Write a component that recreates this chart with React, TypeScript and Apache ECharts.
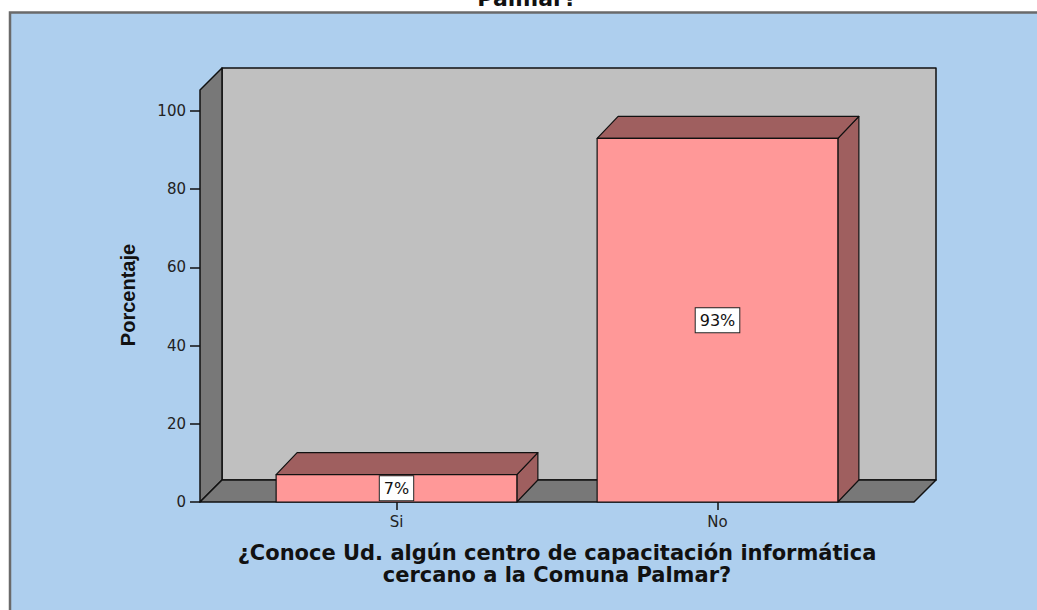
import React, { useEffect, useRef } from "react";
import * as echarts from "echarts";

const categories = ["Si", "No"];
const percentages = [7, 93];
const yMin = 0;
const yMax = 100;
const yInterval = 20;
const xTitle = "¿Conoce Ud. algún centro de capacitación informática\ncercano a la Comuna Palmar?";
const yTitle = "Porcentaje";
const chartTitleTail = "Palmar?";

const DX = 22;
const DY = 22;
const BAR_DX = 21;
const BAR_DY = 22;
const WALL_PAD = 36;
const WALL_TOP = 21;

const FRONT = "#FF9898";
const DARK = "#9F5F5F";
const WALL_DARK = "#787878";
const WALL_BACK = "#C0C0C0";
const EDGE = "#111111";

export default function App() {
  const ref = useRef<HTMLDivElement | null>(null);

  useEffect(() => {
    if (!ref.current) return;
    const chart = echarts.init(ref.current, null, { renderer: "svg" });

    const renderFrame = (params: any) => {
      const cs = params.coordSys;
      const left = cs.x - WALL_PAD;
      const right = cs.x + cs.width + WALL_PAD;
      const base = cs.y + cs.height;
      const top = cs.y - WALL_TOP;
      const st = (fill: string) => ({ fill, stroke: EDGE, lineWidth: 1.5, lineJoin: "round" });
      return {
        type: "group",
        children: [
          {
            type: "rect",
            shape: { x: left + DX, y: top - DY, width: right - left, height: base - top },
            style: st(WALL_BACK),
          },
          {
            type: "polygon",
            shape: { points: [[left, top], [left + DX, top - DY], [left + DX, base - DY], [left, base]] },
            style: st(WALL_DARK),
          },
          {
            type: "polygon",
            shape: { points: [[left, base], [left + DX, base - DY], [right + DX, base - DY], [right, base]] },
            style: st(WALL_DARK),
          },
        ],
      };
    };

    const renderBar = (params: any, api: any) => {
      const idx = api.value(0);
      const val = api.value(1);
      const topPt = api.coord([idx, val]);
      const basePt = api.coord([idx, 0]);
      const band = api.size([1, 0])[0];
      const w = band * 0.75;
      const xl = topPt[0] - w / 2;
      const xr = xl + w;
      const yt = topPt[1];
      const yb = basePt[1];
      const st = (fill: string) => ({ fill, stroke: EDGE, lineWidth: 1.2, lineJoin: "round" });
      return {
        type: "group",
        children: [
          {
            type: "polygon",
            shape: { points: [[xr, yt], [xr + BAR_DX, yt - BAR_DY], [xr + BAR_DX, yb - BAR_DY], [xr, yb]] },
            style: st(DARK),
          },
          {
            type: "polygon",
            shape: { points: [[xl, yt], [xl + BAR_DX, yt - BAR_DY], [xr + BAR_DX, yt - BAR_DY], [xr, yt]] },
            style: st(DARK),
          },
          {
            type: "rect",
            shape: { x: xl, y: yt, width: w, height: yb - yt },
            style: st(FRONT),
          },
          {
            type: "text",
            x: (xl + xr) / 2,
            y: (yt + yb) / 2,
            style: {
              text: Math.round(val) + "%",
              fill: "#111",
              fontFamily: "DejaVu Sans",
              fontSize: 16,
              lineHeight: 16,
              align: "center",
              verticalAlign: "middle",
              backgroundColor: "#ffffff",
              borderColor: "#222",
              borderWidth: 1,
              padding: [4, 4],
            },
          },
        ],
      };
    };

    chart.setOption({
      animation: false,
      backgroundColor: "#ffffff",
      grid: { left: 236, right: 159, top: 111, bottom: 108 },
      xAxis: {
        type: "category",
        data: categories,
        boundaryGap: true,
        axisLine: { show: false },
        axisTick: { show: true, alignWithLabel: true, length: 8, lineStyle: { color: "#111", width: 1.5 } },
        axisLabel: { color: "#222", fontFamily: "DejaVu Sans", fontSize: 15, margin: 12 },
        splitLine: { show: false },
        name: xTitle,
        nameLocation: "middle",
        nameGap: 40,
        nameTextStyle: {
          color: "#111",
          fontFamily: "DejaVu Sans",
          fontWeight: "bold",
          fontSize: 21,
          lineHeight: 22,
        },
      },
      yAxis: {
        type: "value",
        min: yMin,
        max: yMax,
        interval: yInterval,
        offset: WALL_PAD,
        axisLine: { show: false },
        axisTick: { show: true, length: 10, lineStyle: { color: "#111", width: 1.5 } },
        axisLabel: { color: "#222", fontFamily: "DejaVu Sans", fontSize: 15, margin: 14 },
        splitLine: { show: false },
      },
      graphic: [
        {
          type: "rect",
          z: -10,
          silent: true,
          shape: { x: 10, y: 12.5, width: 1100, height: 700 },
          style: { fill: "#AECFEE", stroke: "#6a6a6a", lineWidth: 2.5 },
        },
        {
          type: "text",
          x: 527,
          y: -2,
          style: {
            text: chartTitleTail,
            fill: "#111",
            fontFamily: "DejaVu Sans",
            fontWeight: "bold",
            fontSize: 22,
            align: "center",
            verticalAlign: "middle",
          },
        },
        {
          type: "text",
          x: 128,
          y: 295,
          rotation: Math.PI / 2,
          style: {
            text: yTitle,
            fill: "#111",
            fontFamily: "Liberation Sans",
            fontWeight: "bold",
            fontSize: 20,
            align: "center",
            verticalAlign: "middle",
          },
        },
      ],
      series: [
        {
          type: "custom",
          renderItem: renderFrame,
          data: [[0, 0]],
          encode: { x: 0, y: 1 },
          z: 1,
          silent: true,
        },
        {
          type: "custom",
          renderItem: renderBar,
          data: categories.map((c, i) => [i, percentages[i]]),
          encode: { x: 0, y: 1 },
          z: 2,
        },
      ],
    });

    return () => chart.dispose();
  }, []);

  return (
    <div
      ref={ref}
      style={{ position: "fixed", left: 0, top: 0, width: 1037, height: 610 }}
    />
  );
}
